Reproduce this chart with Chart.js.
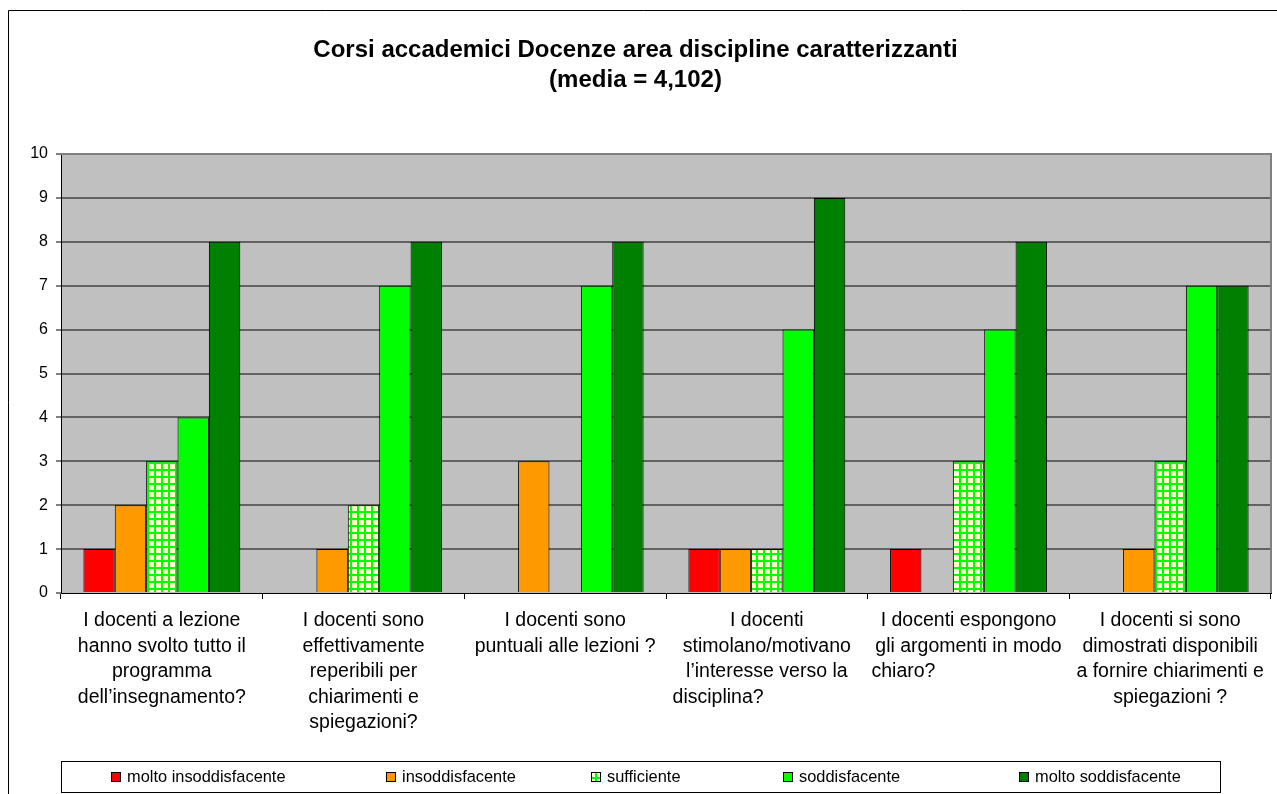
<!DOCTYPE html>
<html lang="it">
<head>
<meta charset="utf-8">
<title>Corsi accademici Docenze area discipline caratterizzanti</title>
<script src="https://cdn.jsdelivr.net/npm/chart.js@4/dist/chart.umd.min.js"></script>
<style>
  html, body { margin: 0; padding: 0; background: #fff; }
  canvas { display: block; }
</style>
</head>
<body>
<canvas id="barChart" width="1277" height="794"></canvas>
<script>
"use strict";

// Domande del questionario (una riga per elemento)
const domande = [
  ["I docenti a lezione", "hanno svolto tutto il", "programma", "dell’insegnamento?"],
  ["I docenti sono", "effettivamente", "reperibili per", "chiarimenti e", "spiegazioni?"],
  ["I docenti sono", "puntuali alle lezioni ?"],
  ["I docenti", "stimolano/motivano", "l’interesse verso la", "disciplina?"],
  ["I docenti espongono", "gli argomenti in modo", "chiaro?"],
  ["I docenti si sono", "dimostrati disponibili", "a fornire chiarimenti e", "spiegazioni ?"]
];

const giudizi = ["molto insoddisfacente", "insoddisfacente", "sufficiente", "soddisfacente", "molto soddisfacente"];

// Numero di risposte per giudizio
const moltoInsoddisfacente = [1, 0, 0, 1, 1, 0];
const insoddisfacente = [2, 1, 3, 1, 0, 1];
const sufficiente = [3, 2, 0, 1, 3, 3];
const soddisfacente = [4, 7, 7, 6, 6, 7];
const moltoSoddisfacente = [8, 8, 8, 9, 8, 7];

const yTicks = [0, 1, 2, 3, 4, 5, 6, 7, 8, 9, 10];
const titolo = ["Corsi accademici Docenze area discipline caratterizzanti", "(media = 4,102)"];

const FONT = "'Liberation Sans', Arial, sans-serif";
const ctx = document.getElementById("barChart").getContext("2d");

/**
 * Retino a quadretti verdi su fondo giallino per "sufficiente".
 */
function quadrettato() {
  const c = document.createElement("canvas");
  c.width = 7;
  c.height = 7;
  const g = c.getContext("2d");
  g.fillStyle = "#FFFFCC";
  g.fillRect(0, 0, 7, 7);
  g.fillStyle = "#00FF00";
  g.fillRect(0, 0, 7, 2);
  g.fillRect(0, 0, 2, 7);
  return ctx.createPattern(c, "repeat");
}

// l'ultima riga di alcune etichette è spostata a sinistra
const rientroUltimaRiga = { 3: 50, 4: 64 };
const LARGHEZZA_SPAZIO = 0.278 * 19.5;

function etichetta(index) {
  const righe = domande[index].slice();
  const sp = rientroUltimaRiga[index];
  if (sp) {
    righe[righe.length - 1] += "\u00A0".repeat(Math.round(2 * sp / LARGHEZZA_SPAZIO));
  }
  return righe;
}

// sfondo bianco, cornice esterna e area del grafico grigia
const sfondo = {
  id: "sfondo",
  beforeDraw(chart) {
    const c = chart.ctx;
    const a = chart.chartArea;
    c.save();
    c.fillStyle = "#ffffff";
    c.fillRect(0, 0, chart.width, chart.height);
    c.strokeStyle = "#000000";
    c.lineWidth = 1;
    c.beginPath();
    c.moveTo(8.5, chart.height + 2);
    c.lineTo(8.5, 10.5);
    c.lineTo(chart.width + 2, 10.5);
    c.stroke();
    c.fillStyle = "#C0C0C0";
    c.fillRect(a.left, a.top, a.right - a.left, a.bottom - a.top);
    c.restore();
  },
  beforeDatasetsDraw(chart) {
    const c = chart.ctx;
    const a = chart.chartArea;
    c.save();
    c.strokeStyle = "#808080";
    c.lineWidth = 2;
    c.beginPath();
    c.moveTo(a.left, a.top);
    c.lineTo(a.right, a.top);
    c.lineTo(a.right, a.bottom);
    c.stroke();
    c.restore();
  }
};

// posizione di ogni voce nel riquadro della legenda
const xVoci = [49, 324, 529, 721, 957];

// legenda in riquadro sotto le etichette
const legenda = {
  id: "legenda",
  afterDraw(chart) {
    const c = chart.ctx;
    const a = chart.chartArea;
    const boxLeft = a.left + 0.5;
    const boxTop = a.bottom + 168.5;
    const boxRight = a.right - 50.5;
    c.save();
    c.strokeStyle = "#000000";
    c.lineWidth = 1;
    c.strokeRect(boxLeft, boxTop, boxRight - boxLeft, 31);

    c.font = "16.4px " + FONT;
    c.textBaseline = "middle";
    c.textAlign = "left";
    const yMid = boxTop + 15.5;
    chart.data.datasets.forEach((ds, i) => {
      const x = Math.round(boxLeft + xVoci[i]);
      c.fillStyle = ds.backgroundColor;
      c.fillRect(x, Math.round(yMid - 5), 10, 10);
      c.strokeRect(x + 0.5, Math.round(yMid - 5) + 0.5, 9, 9);
      c.fillStyle = "#000000";
      c.fillText(ds.label, x + 16, yMid);
    });
    c.restore();
  }
};

function serie(label, data, colore) {
  return {
    label: label,
    data: data,
    backgroundColor: colore,
    borderColor: "#000000",
    borderWidth: c => (c.raw === 0 ? 0 : 1),
    categoryPercentage: 0.778,
    barPercentage: 1
  };
}

function createBarChart() {
  Chart.defaults.font.family = FONT;
  Chart.defaults.color = "#000000";

  new Chart(ctx, {
    type: "bar",
    data: {
      labels: domande,
      datasets: [
        serie(giudizi[0], moltoInsoddisfacente, "#FF0000"),
        serie(giudizi[1], insoddisfacente, "#FF9900"),
        serie(giudizi[2], sufficiente, quadrettato()),
        serie(giudizi[3], soddisfacente, "#00FF00"),
        serie(giudizi[4], moltoSoddisfacente, "#008000")
      ]
    },
    options: {
      responsive: false,
      animation: false,
      devicePixelRatio: 1,
      layout: { padding: { left: 0, right: 6, top: 0, bottom: 0 } },
      plugins: {
        legend: { display: false },
        tooltip: { enabled: false },
        title: {
          display: true,
          text: titolo,
          color: "#000000",
          font: { size: 24, weight: "bold", lineHeight: "30px" },
          padding: { top: 35, bottom: 59 }
        }
      },
      scales: {
        x: {
          offset: true,
          grid: {
            offset: true,
            drawOnChartArea: false,
            drawTicks: true,
            tickLength: 6,
            tickColor: "#000000",
            tickWidth: 1
          },
          border: { color: "#000000", width: 1 },
          ticks: {
            autoSkip: false,
            maxRotation: 0,
            minRotation: 0,
            padding: 9,
            font: { size: 19.5, lineHeight: "25.5px" },
            callback: (value, index) => etichetta(index)
          },
          afterFit: s => { s.height = 201; }
        },
        y: {
          min: 0,
          max: 10,
          afterBuildTicks: s => { s.ticks = yTicks.map(v => ({ value: v })); },
          grid: {
            color: c => (c.tick.value === 0 ? "rgba(0,0,0,0)" : c.tick.value === 10 ? "#808080" : "#626262"),
            lineWidth: 2,
            tickLength: 5,
            tickColor: "#000000",
            tickWidth: 1
          },
          border: { color: "#000000", width: 1 },
          ticks: {
            padding: 8,
            font: { size: 16 }
          },
          afterFit: s => { s.width = 61; }
        }
      }
    },
    plugins: [sfondo, legenda]
  });
}

createBarChart();
</script>
</body>
</html>
